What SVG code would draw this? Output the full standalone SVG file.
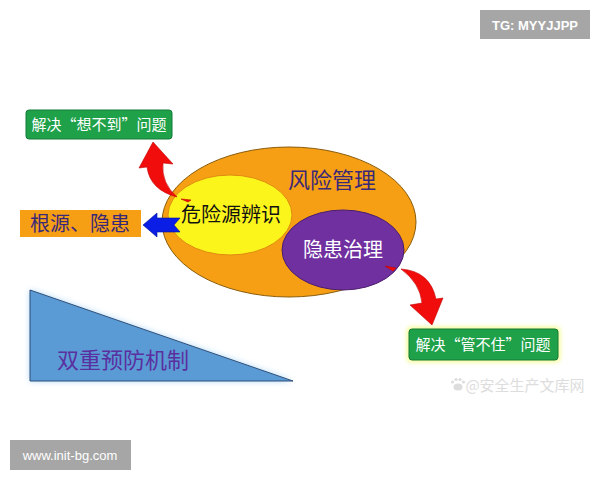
<svg xmlns="http://www.w3.org/2000/svg" width="600" height="480" viewBox="0 0 600 480">
<defs>
<filter id="glowBlue" x="-20%" y="-20%" width="140%" height="140%"><feGaussianBlur stdDeviation="3"/></filter>
<filter id="glowYellow" x="-20%" y="-30%" width="140%" height="160%"><feGaussianBlur stdDeviation="2.5"/></filter>
</defs>
<style>
.cjk{font-family:"Noto Sans CJK SC","Noto Sans",sans-serif;}
.lat{font-family:"Liberation Sans","DejaVu Sans",sans-serif;}
.green{fill:#1fa14a;stroke:#157a36;stroke-width:1;}
.wlabel{fill:#ffffff;font-size:15px;}
.red{fill:#f20d0d;stroke:#c00000;stroke-width:0.6;}
.navy{fill:#3a2878;}
.tag{fill:#a6a6a6;}
.paw{fill:#dddddd;}
</style>
<rect width="600" height="480" fill="#ffffff"/>

<g id="tag-tg">
<rect class="tag" x="480" y="10" width="110" height="29"/>
<text class="lat" x="535" y="30" text-anchor="middle" font-size="13" font-weight="bold" fill="#ffffff">TG: MYYJJPP</text>
</g>

<g id="risk-management">
<ellipse cx="289" cy="222" rx="127" ry="75" fill="#f69f14" stroke="#8a5c0a" stroke-width="1"/>
<text class="cjk navy" x="332" y="188" text-anchor="middle" font-size="22">风险管理</text>
</g>

<g id="hazard-identification">
<ellipse cx="230" cy="215" rx="62" ry="40" fill="#fbf51c" stroke="#e08a10" stroke-width="1"/>
<text class="cjk" x="231" y="222" text-anchor="middle" font-size="20" fill="#111111">危险源辨识</text>
</g>

<g id="hazard-treatment">
<ellipse cx="343" cy="250" rx="61" ry="40" fill="#7030a0" stroke="#4a1d6e" stroke-width="1"/>
<text class="cjk" x="343" y="257" text-anchor="middle" font-size="20" fill="#ffffff">隐患治理</text>
</g>

<g id="solve-unforeseen">
<rect class="green" x="26" y="110" width="146" height="29" rx="3"/>
<text class="cjk wlabel" x="99" y="130" text-anchor="middle">解决“想不到”问题</text>
</g>

<g id="root-hazard">
<rect x="20" y="210" width="121" height="27" fill="#f69f14"/>
<text class="cjk navy" x="80" y="231" text-anchor="middle" font-size="20">根源、隐患</text>
</g>

<g id="solve-uncontrolled">
<rect x="407" y="327" width="153" height="35" rx="4" fill="#f4fb8a" filter="url(#glowYellow)"/>
<rect class="green" x="409" y="329" width="149" height="31" rx="3"/>
<text class="cjk wlabel" x="483" y="350" text-anchor="middle">解决“管不住”问题</text>
</g>

<g id="dual-prevention">
<polygon points="30,290 30,381 293,381" fill="#a8d4f5" filter="url(#glowBlue)"/>
<polygon points="30,290 30,381 293,381" fill="#5b9bd5" stroke="#2f4f7a" stroke-width="1"/>
<text class="cjk" x="123" y="368" text-anchor="middle" font-size="22" fill="#5a2fa0">双重预防机制</text>
</g>

<g id="connectors">
<path class="red" d="M153,142 L173,164 L163,163 Q161,183 177,197 Q150,190 147,167 L139,168 Z"/>
<path class="red" d="M181,199 L191,200 L188,202 Z"/>
<path class="red" d="M401,269 Q430,271 436,299 L443,298 L432,325 L410,305 L422,303 Q420,283 401,269 Z"/>
<path class="red" d="M385,266 L396,268 L393,271 Z"/>
<path d="M143,225 L157,213 L157,218 L180,218 L174,225 L180,232 L157,232 L157,237 Z" fill="#0a1ee6" stroke="#001090" stroke-width="0.6"/>
</g>

<g id="watermark">
<ellipse class="paw" cx="458" cy="387" rx="4.5" ry="3.5"/>
<circle class="paw" cx="452.5" cy="382" r="1.6"/>
<circle class="paw" cx="456" cy="379.5" r="1.6"/>
<circle class="paw" cx="460" cy="379.5" r="1.6"/>
<circle class="paw" cx="463.5" cy="382" r="1.6"/>
<text class="cjk" x="525" y="391" text-anchor="middle" font-size="15" fill="#dddddd">@安全生产文库网</text>
</g>

<g id="tag-www">
<rect class="tag" x="10" y="440" width="121" height="30"/>
<text class="lat" x="70" y="460" text-anchor="middle" font-size="13" fill="#ffffff">www.init-bg.com</text>
</g>
</svg>
